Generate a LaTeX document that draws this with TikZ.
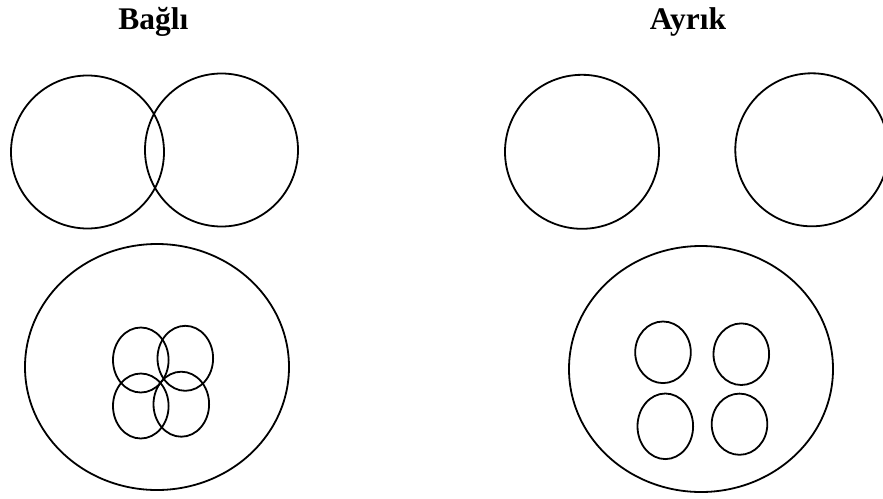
\documentclass[tikz,border=0pt]{standalone}
\usepackage{fontspec}
\setmainfont{Liberation Serif}
\usetikzlibrary{shapes.geometric}
\begin{document}
\begin{tikzpicture}[x=1pt,y=-1pt,
  ring/.style={draw=black,line width=1.8pt},
  title/.style={font=\fontsize{31.5}{36}\selectfont\bfseries,anchor=base,inner sep=0pt}]
\useasboundingbox (0,0) rectangle (883,498);
% titles
\node[title] (tb) at (153.3,29.3) {Bağlı};
\node[title] (ta) at (688,29.3) {Ayrık};
% connected: top circles
\draw[ring] (87.5,152) circle[radius=76.5pt];
\draw[ring] (221.5,150) circle[radius=76.5pt];
% connected: big ellipse with overlapping small ones
\draw[ring] (157,367) ellipse[x radius=132pt,y radius=123pt];
\draw[ring] (140.8,360) ellipse[x radius=27.8pt,y radius=32.5pt];
\draw[ring] (185.3,358.3) ellipse[x radius=27.8pt,y radius=32.5pt];
\draw[ring] (140.8,406) ellipse[x radius=27.8pt,y radius=32.5pt];
\draw[ring] (181.3,404.2) ellipse[x radius=27.8pt,y radius=32.5pt];
% separated: top circles
\draw[ring] (582,151.8) circle[radius=77pt];
\draw[ring] (811.8,149.8) circle[radius=76.5pt];
% separated: big ellipse with disjoint small ones
\draw[ring] (701,369) ellipse[x radius=132pt,y radius=123pt];
\draw[ring] (663,352.3) ellipse[x radius=27.8pt,y radius=30.8pt];
\draw[ring] (741.3,354.2) ellipse[x radius=27.8pt,y radius=30.8pt];
\draw[ring] (665.3,426.3) ellipse[x radius=27.8pt,y radius=32.8pt];
\draw[ring] (739.5,424.2) ellipse[x radius=27.8pt,y radius=30.6pt];
\end{tikzpicture}
\end{document}
